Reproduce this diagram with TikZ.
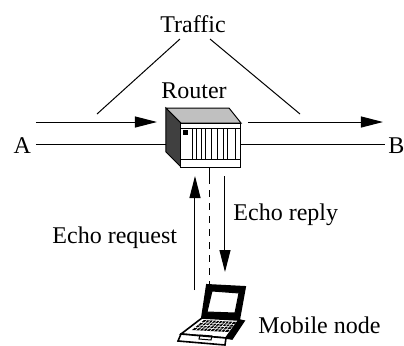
\documentclass[tikz,border=0pt]{standalone}
\usepackage{fontspec}
\setmainfont{Liberation Serif}
\usetikzlibrary{positioning,arrows.meta,calc}

\definecolor{sidegray}{RGB}{64,64,64}
\definecolor{topgray}{RGB}{192,192,192}

\begin{document}
\begin{tikzpicture}[x=0.5pt,y=-0.5pt,line width=0.5pt,
    lbl/.style={inner sep=0pt,font=\fontsize{12}{14}\selectfont},
    flow/.style={-{Triangle[length=11pt,width=5.5pt]}}]
  \useasboundingbox (0,0) rectangle (404,345);

  \node[lbl,anchor=base]      (Traffic) at (193,32)  {Traffic};
  \node[lbl,anchor=base]      (RouterLbl) at (194,98) {Router};
  \node[lbl,anchor=base west] (A)       at (13,153)  {A};
  \node[lbl,anchor=base west] (B)       at (388,153) {B};
  \node[lbl,anchor=base west] (Request) at (52,243)  {Echo request};
  \node[lbl,anchor=base west] (Reply)   at (233,220) {Echo reply};
  \node[lbl,anchor=base west] (Mobile)  at (258,333) {Mobile node};

  % router cabinet
  \filldraw[fill=sidegray] (166,108) -- (181,123) -- (181,167) -- (166,152) -- cycle;
  \filldraw[fill=topgray]  (166,108) -- (229,108) -- (241,123) -- (181,123) -- cycle;
  \filldraw[fill=white] (181,123) rectangle (241,167);
  \draw (181,128) -- (241,128)  (181,159) -- (241,159);
  \foreach \x in {193,197,202,206,212,218,224,228,236}
    \draw (\x,128) -- (\x,159);
  \fill (183,130) rectangle (188,135);

  \coordinate (RtrW)  at (166,144);
  \coordinate (RtrE)  at (241,144);
  \coordinate (RtrS)  at (210,167);

  % traffic paths
  \coordinate (Ain)   at (36,122);
  \coordinate (Aout)  at (157,122);
  \coordinate (Bin)   at (248,122);
  \coordinate (Bout)  at (383,122);
  \coordinate (Aline) at (36,144);
  \coordinate (Bline) at (385,144);
  \draw[flow] (Ain) -- (Aout);
  \draw[flow] (Bin) -- (Bout);
  \draw (Aline) -- (RtrW);
  \draw (RtrE) -- (Bline);

  \coordinate (TrL)   at (180,39);
  \coordinate (TrR)   at (210,39);
  \coordinate (TrLend) at (97,114);
  \coordinate (TrRend) at (300,114);
  \draw (TrL) -- (TrLend);
  \draw (TrR) -- (TrRend);

  % wireless link and echo messages
  \coordinate (Link)   at (210,177);
  \coordinate (Node)   at (210,288);
  \coordinate (ReqLo)  at (195,290);
  \coordinate (ReqHi)  at (195,176);
  \coordinate (RepHi)  at (225,176);
  \coordinate (RepLo)  at (225,272);
  \draw (RtrS) -- (Link);
  \draw[dash pattern=on 3.5pt off 3pt] (Link) -- (Node);
  \draw[flow] (ReqLo) -- (ReqHi);
  \draw[flow] (RepHi) -- (RepLo);

  % laptop
  \filldraw[line width=1pt] (207,285) -- (245,287) -- (239,320) -- (202,318) -- cycle;
  \filldraw[fill=white] (212,291) -- (239,293) -- (235,313) -- (207,312) -- cycle;
  \filldraw[fill=white,line width=0.8pt] (202,318) -- (239,320) -- (226,338) -- (181,334) -- cycle;
  \filldraw[fill=white,line width=0.8pt] (181,334) -- (226,338) -- (225,345) -- (178,341) -- cycle;
  \filldraw[line width=0.8pt] (239,320) -- (244,321) -- (232,339) -- (226,338) -- cycle;
  \fill (204,320) -- (236,322) -- (228,332) -- (192,330) -- cycle;
  \foreach \t in {0.25,0.5,0.75}
    \draw[white,line width=0.3pt] ($(204,320)!\t!(192,330)$) -- ($(236,322)!\t!(228,332)$);
  \foreach \t in {0.1,0.2,...,0.95}
    \draw[white,line width=0.3pt] ($(204,320)!\t!(236,322)$) -- ($(192,330)!\t!(228,332)$);
  \draw (200,335) -- (212,336) -- (211,340) -- (199,339) -- cycle;
\end{tikzpicture}
\end{document}
